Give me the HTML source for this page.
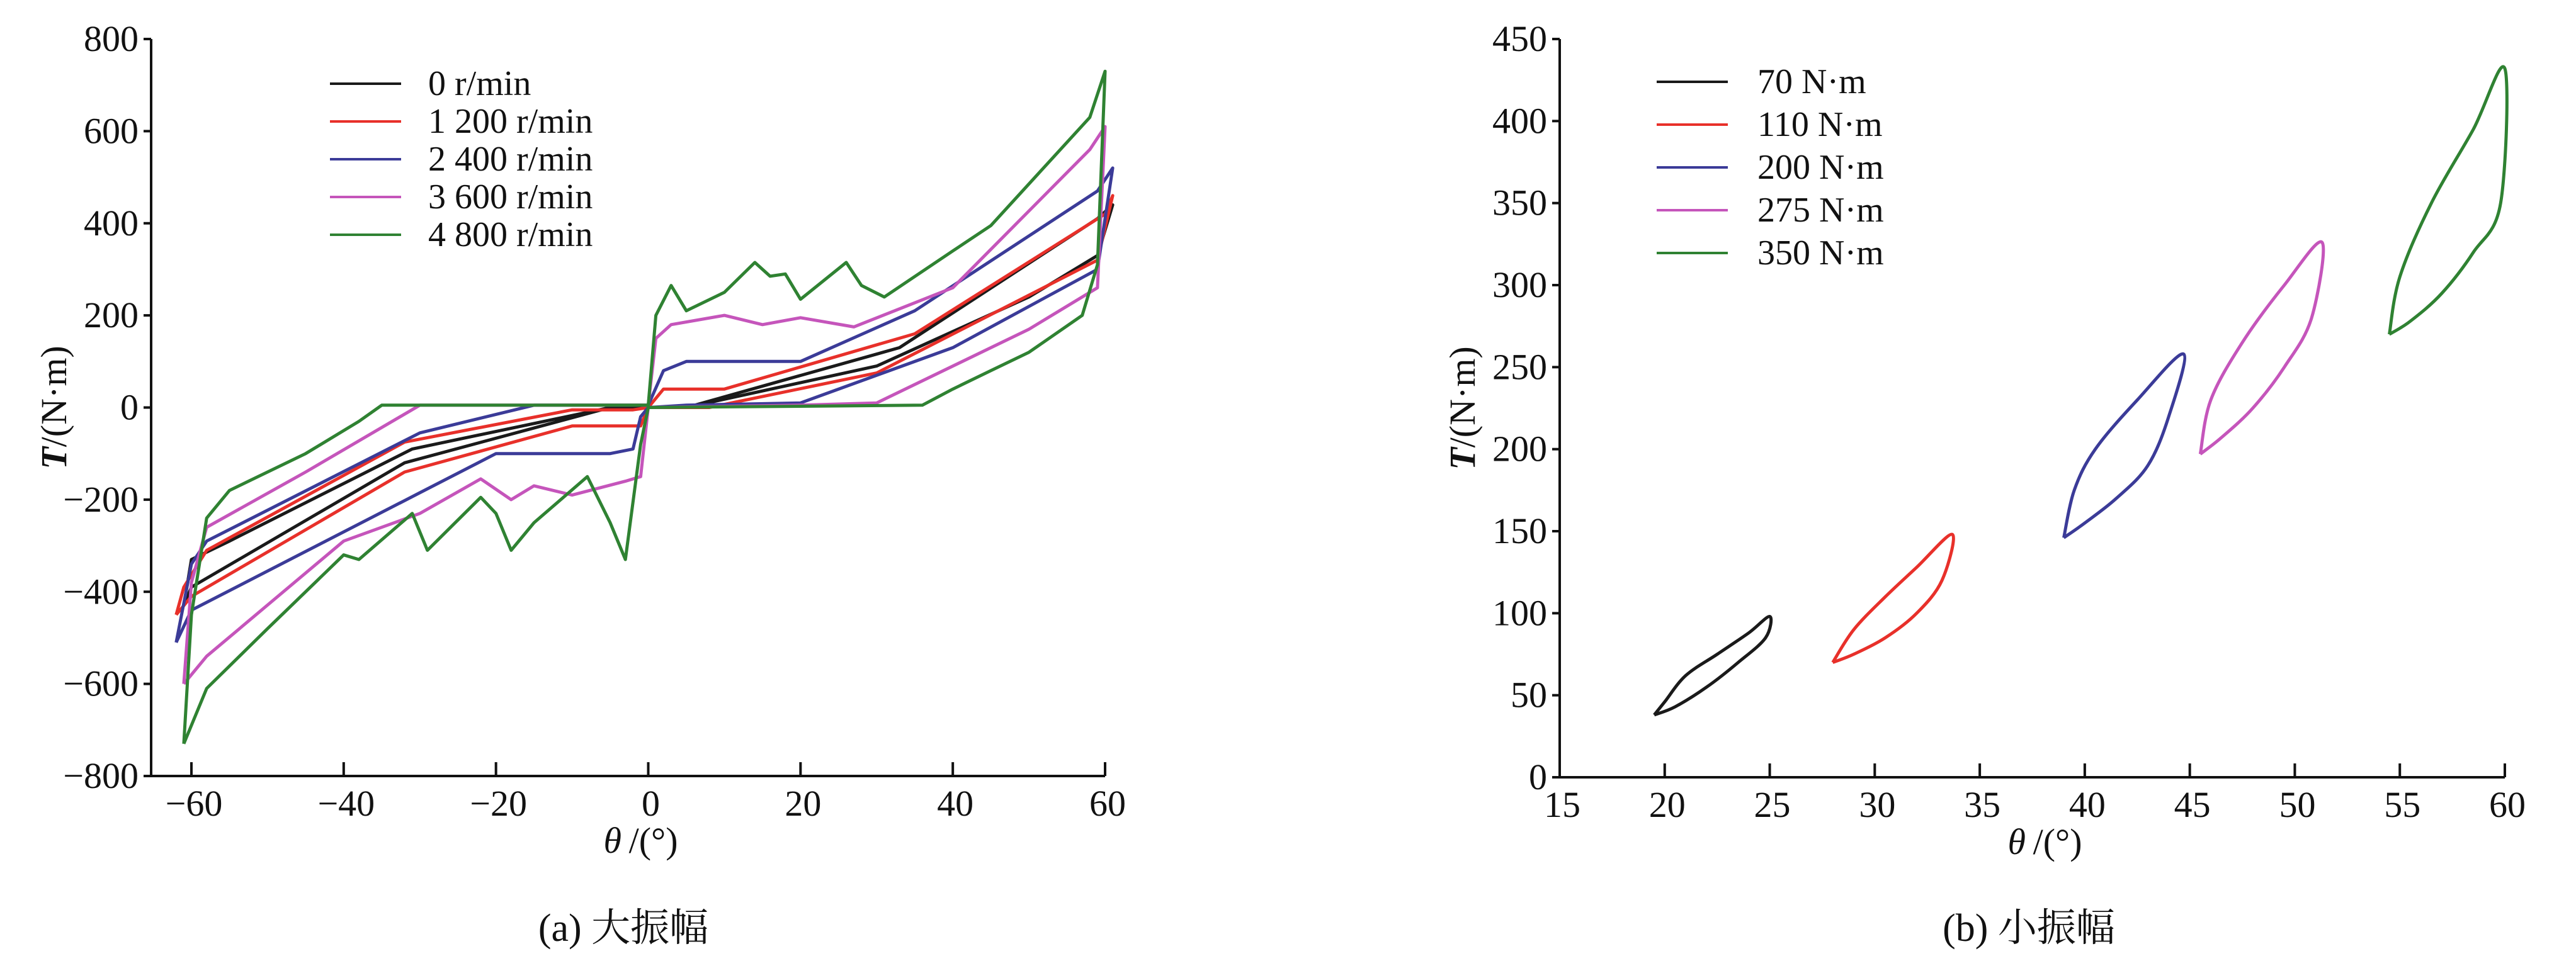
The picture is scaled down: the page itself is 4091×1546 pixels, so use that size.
<!DOCTYPE html>
<html><head><meta charset="utf-8"><style>
html,body{margin:0;padding:0;background:#fff;}
svg{display:block;font-family:"Liberation Serif","Noto Serif CJK SC",serif;}
</style></head><body>
<svg id="fig" width="4091" height="1546" viewBox="0 0 4091 1546">
<g id="chartA"></g>
<g id="chartB"></g>
</svg>
<script>
// ---- Chart A data ----
const aXTicks = [-60,-40,-20,0,20,40,60];
const aYTicks = [-800,-600,-400,-200,0,200,400,600,800];
const aLabels = ["0 r/min","1 200 r/min","2 400 r/min","3 600 r/min","4 800 r/min"];
const aS0 = [[-61,-430],[-60,-330],[-55,-290],[-31,-90],[-5,0],[0,0],[5,0],[33,130],[59,410],[61,440],[59,330],[50,240],[30,90],[5,0],[0,0],[-5,0],[-32,-120],[-60,-390],[-61,-430]];
const aS1 = [[-62,-450],[-61,-390],[-58,-310],[-32,-75],[-10,-5],[-2,-5],[0,0],[2,40],[10,40],[35,160],[60,420],[61,460],[59,320],[30,75],[8,0],[2,0],[0,0],[-1,-40],[-10,-40],[-32,-140],[-60,-410],[-62,-450]];
const aS2 = [[-62,-510],[-60,-340],[-58,-290],[-30,-55],[-15,5],[0,5],[2,80],[5,100],[20,100],[35,210],[59,470],[61,520],[59,300],[40,130],[20,10],[5,5],[0,0],[-1,-20],[-2,-90],[-5,-100],[-20,-100],[-30,-185],[-60,-440],[-62,-510]];
const aS3 = [[-61,-600],[-60,-380],[-58,-260],[-45,-140],[-30,5],[0,5],[1,150],[3,180],[10,200],[15,180],[20,195],[27,175],[40,260],[58,560],[60,610],[59,260],[50,170],[30,10],[20,5],[0,0],[-1,-150],[-3,-160],[-10,-190],[-15,-170],[-18,-200],[-22,-155],[-30,-230],[-40,-290],[-58,-540],[-61,-600]];
const aS4 = [[-61,-730],[-60,-450],[-58,-240],[-55,-180],[-45,-100],[-38,-30],[-35,5],[0,5],[1,200],[3,265],[5,210],[10,250],[14,315],[16,285],[18,290],[20,235],[26,315],[28,265],[31,240],[40,340],[45,395],[58,630],[60,730],[59,310],[57,200],[50,120],[45,80],[40,40],[36,5],[0,0],[-1,-80],[-3,-330],[-5,-250],[-8,-150],[-15,-250],[-18,-310],[-20,-230],[-22,-195],[-29,-310],[-31,-230],[-38,-330],[-40,-320],[-50,-480],[-58,-610],[-61,-730]];
// ---- Chart B data ----
const bXTicks = [15,20,25,30,35,40,45,50,55,60];
const bYTicks = [0,50,100,150,200,250,300,350,400,450];
const bLabels = ["70 N·m","110 N·m","200 N·m","275 N·m","350 N·m"];
const bS0 = [[19.5,38],[20,46],[21,62],[22.5,75],[24,88],[25,98],[24.8,85],[23.5,70],[22,55],[20.5,43],[19.5,38]];
const bS1 = [[28,70],[29,90],[30.5,110],[32,128],[33.7,148],[33.2,120],[32,100],[30.5,85],[29,75],[28,70]];
const bS2 = [[39,146],[39.5,175],[40.5,200],[42.5,230],[44.7,258],[44,220],[43,190],[41.5,170],[40,155],[39,146]];
const bS3 = [[45.5,197],[46,230],[47.5,265],[49.5,300],[51.3,326],[50.8,280],[49.5,250],[48,225],[46.5,207],[45.5,197]];
const bS4 = [[54.5,270],[55,305],[56.5,350],[58.5,395],[60,432],[59.8,350],[58.5,320],[57,295],[55.5,278],[54.5,270]];
const colors = ["#1a1a1a","#e8302a","#3b3b98","#c555bb","#2f8232"];

const NS="http://www.w3.org/2000/svg";
function mk(parent,tag,attrs,text){const e=document.createElementNS(NS,tag);for(const k in attrs)e.setAttribute(k,attrs[k]);if(text!==undefined)e.textContent=text;parent.appendChild(e);return e;}
function smooth(pts){let d="M"+pts[0][0]+","+pts[0][1];for(let i=0;i<pts.length-1;i++){const p0=pts[Math.max(0,i-1)],p1=pts[i],p2=pts[i+1],p3=pts[Math.min(pts.length-1,i+2)];const c1=[p1[0]+(p2[0]-p0[0])/6,p1[1]+(p2[1]-p0[1])/6],c2=[p2[0]-(p3[0]-p1[0])/6,p2[1]-(p3[1]-p1[1])/6];d+=" C"+c1[0].toFixed(1)+","+c1[1].toFixed(1)+" "+c2[0].toFixed(1)+","+c2[1].toFixed(1)+" "+p2[0].toFixed(1)+","+p2[1].toFixed(1);}return d;}

function chart(g,o){
  const sx=v=>o.x0+(v-o.xmin)/(o.xmax-o.xmin)*(o.x1-o.x0);
  const sy=v=>o.y0-(v-o.ymin)/(o.ymax-o.ymin)*(o.y0-o.y1);
  const axY=mk(g,"line",{x1:o.ax,y1:o.y1,x2:o.ax,y2:o.y0,stroke:"#111","stroke-width":4});
  
  
  const axX=mk(g,"line",{x1:o.ax,y1:o.y0,x2:o.x1,y2:o.y0,stroke:"#111","stroke-width":4});
  
  
  o.yt.forEach(v=>{
    const t=mk(g,"line",{x1:o.ax-12,y1:sy(v),x2:o.ax,y2:sy(v),stroke:"#111","stroke-width":4});
    
    
    const l=mk(g,"text",{x:o.ax-20,y:sy(v)+19,"text-anchor":"end","font-size":58,fill:"#111"},String(v).replace("-","−"));
    
    
  });
  o.xt.forEach(v=>{
    const t=mk(g,"line",{x1:sx(v),y1:o.y0-22,x2:sx(v),y2:o.y0,stroke:"#111","stroke-width":4});
    
    
    const l=mk(g,"text",{x:sx(v)+4,y:o.y0+63,"text-anchor":"middle","font-size":58,fill:"#111"},String(v).replace("-","−"));
    
    
  });
  const xt=mk(g,"text",{x:(o.ax+o.x1)/2+20,y:o.y0+122,"text-anchor":"middle","font-size":58,fill:"#111"});
  
  
  mk(xt,"tspan",{"font-style":"italic"},"θ");mk(xt,"tspan",{},"\u2009/(°)");
  const yt=mk(g,"text",{x:0,y:0,"text-anchor":"middle","font-size":58,fill:"#111",transform:"translate("+(o.ax-135)+","+(o.y0+o.y1)/2+") rotate(-90)"});
  
  
  mk(yt,"tspan",{"font-style":"italic","font-weight":"bold"},"T");mk(yt,"tspan",{},"/(N·m)");
  o.series.forEach((s,i)=>{
    const pts=s.map(p=>[sx(p[0]),sy(p[1])]);
    const p=mk(g,"path",{d:o.smooth?smooth(pts):"M"+pts.map(q=>q[0].toFixed(1)+","+q[1].toFixed(1)).join(" L"),fill:"none",stroke:colors[i],"stroke-width":5,"stroke-linejoin":"round"});
    
    
    const ly=o.legY+i*o.legDy;
    const ll=mk(g,"line",{x1:o.legX,y1:ly,x2:o.legX+113,y2:ly,stroke:colors[i],"stroke-width":4});
    
    
    const lt=mk(g,"text",{x:o.legX+o.legTx,y:ly+18,"font-size":56,fill:"#111"},o.labels[i]);
    
    
  });
  const cap=mk(g,"text",{x:o.capX,y:1495,"text-anchor":"middle","font-size":62,fill:"#111"},o.cap);
  
  
}
chart(document.getElementById("chartA"),{ax:240,x0:304,x1:1755,xmin:-60,xmax:60,y0:1233,y1:62,ymin:-800,ymax:800,xt:aXTicks,yt:aYTicks,
  series:[aS0,aS1,aS2,aS3,aS4],labels:aLabels,legX:524,legY:133,legDy:60,legTx:156,capX:990,cap:"(a) 大振幅",smooth:false});
chart(document.getElementById("chartB"),{ax:2477,x0:2477,x1:3978,xmin:15,xmax:60,y0:1235,y1:62,ymin:0,ymax:450,xt:bXTicks,yt:bYTicks,
  series:[bS0,bS1,bS2,bS3,bS4],labels:bLabels,legX:2631,legY:130,legDy:68,legTx:160,capX:3222,cap:"(b) 小振幅",smooth:true});
</script>
</body></html>
